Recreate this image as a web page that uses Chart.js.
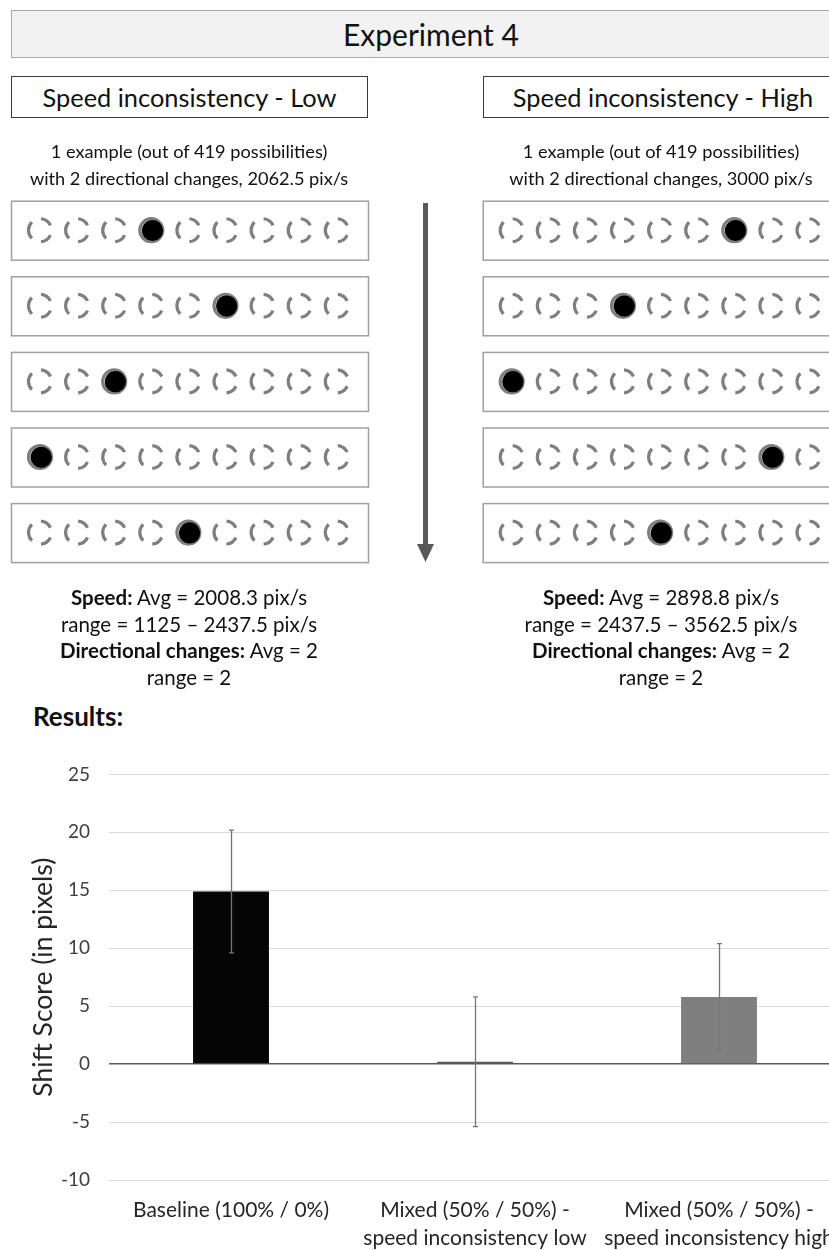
<!DOCTYPE html>
<html>
<head>
<meta charset="utf-8">
<script src="https://cdn.jsdelivr.net/npm/chart.js@4.4.1/dist/chart.umd.min.js"></script>
<style>
  html, body { margin: 0; padding: 0; width: 829px; height: 1250px; overflow: hidden; background: #fff; }
  body { position: relative; font-family: Lato, "Noto Sans", sans-serif; color: #111; }
  .abs { position: absolute; }
  .box { box-sizing: border-box; display: flex; align-items: center; justify-content: center; white-space: nowrap; }
  .title { left: 11px; top: 10px; width: 840px; height: 48px; background: #f2f2f2; border: 1.5px solid #a6a6a6; font-size: 30px; }
  .head { top: 76px; width: 357px; height: 42px; border: 1.2px solid #3a3a3a; font-size: 25.4px; background: #fff; }
  .txt { width: 380px; text-align: center; white-space: nowrap; }
  .ex { top: 138px; font-size: 18.2px; line-height: 27px; }
  .stats { top: 584px; font-size: 20.5px; line-height: 26.7px; }
  .results { left: 33px; top: 700px; font-size: 26px; font-weight: bold; }
  #stim { left: 0; top: 0; }
  #chartWrap { left: 0; top: 744px; width: 829px; height: 506px; overflow: hidden; }
  #chart { display: block; }
</style>
</head>
<body>
<canvas id="stim" class="abs" width="829" height="600"></canvas>

<div class="abs box title">Experiment 4</div>
<div class="abs box head" style="left:11px;">Speed inconsistency - Low</div>
<div class="abs box head" style="left:483px;width:360px;">Speed inconsistency - High</div>

<div class="abs txt ex" style="left:-1px;">1 example (out of 419 possibilities)<br>with 2 directional changes, 2062.5 pix/s</div>
<div class="abs txt ex" style="left:471px;">1 example (out of 419 possibilities)<br>with 2 directional changes, 3000 pix/s</div>

<div class="abs txt stats" style="left:-1px;"><b>Speed:</b> Avg = 2008.3 pix/s<br>range = 1125 – 2437.5 pix/s<br><b>Directional changes:</b> Avg = 2<br>range = 2</div>
<div class="abs txt stats" style="left:471px;"><b>Speed:</b> Avg = 2898.8 pix/s<br>range = 2437.5 – 3562.5 pix/s<br><b>Directional changes:</b> Avg = 2<br>range = 2</div>

<div class="abs results">Results:</div>

<div id="chartWrap" class="abs"><canvas id="chart" width="880" height="511"></canvas></div>

<script>
// Example trials: which of the 9 placeholders holds the target on each frame (1-based)
const lowDotPositions  = [4, 6, 3, 1, 5];
const highDotPositions = [7, 4, 1, 8, 5];

// Bar chart data
const conditions = [
  ["Baseline (100% / 0%)"],
  ["Mixed (50% / 50%) -", "speed inconsistency low"],
  ["Mixed (50% / 50%) -", "speed inconsistency high"]
];
const shiftScores = [14.9, 0.2, 5.8];
const shiftErrors = [5.3, 5.6, 4.6];
const barColors   = ["#050505", "#595959", "#7f7f7f"];
const yTicks      = { min: -10, max: 25, step: 5 };

// ---- stimulus frames ----
(function drawStimuli() {
  const c = document.getElementById('stim');
  const g = c.getContext('2d');
  const panelLefts = [11, 482.7];
  const panels = [lowDotPositions, highDotPositions];
  const rowTop0 = 200.7, rowStep = 75.6, rowH = 59, boxW = 357;
  const slots = 9, slotStep = 37.1, firstSlot = 29, r = 11.5;
  const deg = d => d * Math.PI / 180;

  function placeholder(cx, cy) {
    g.strokeStyle = '#7f7f7f';
    g.lineWidth = 3.2;
    g.lineCap = 'butt';
    [[135, 225], [275, 335], [25, 85]].forEach(([a, b]) => {
      g.beginPath();
      g.arc(cx, cy, r, deg(a), deg(b));
      g.stroke();
    });
  }
  function target(cx, cy) {
    g.strokeStyle = '#7f7f7f';
    g.lineWidth = 3.2;
    g.beginPath(); g.arc(cx, cy, r, 0, Math.PI * 2); g.stroke();
    g.fillStyle = '#000';
    g.beginPath(); g.arc(cx + 1.2, cy + 0.3, 10.6, 0, Math.PI * 2); g.fill();
  }

  panels.forEach((positions, p) => {
    const x0 = panelLefts[p];
    positions.forEach((pos, row) => {
      const top = rowTop0 + row * rowStep;
      g.strokeStyle = '#a0a0a0';
      g.lineWidth = 1.5;
      g.strokeRect(x0 + 0.5, top + 0.5, boxW, rowH);
      const cy = top + rowH / 2;
      for (let s = 1; s <= slots; s++) {
        const cx = x0 + firstSlot + (s - 1) * slotStep;
        if (s === pos) target(cx, cy); else placeholder(cx, cy);
      }
    });
  });

  // time arrow between the two panels
  g.fillStyle = '#595959';
  g.fillRect(423, 203, 5, 342);
  g.beginPath();
  g.moveTo(417, 544);
  g.lineTo(434, 544);
  g.lineTo(425.5, 562);
  g.closePath();
  g.fill();
})();

// ---- error bars ----
const errorBars = {
  id: 'errorBars',
  afterDatasetsDraw(chart) {
    const { ctx, scales: { y } } = chart;
    const meta = chart.getDatasetMeta(0);
    ctx.save();
    ctx.strokeStyle = '#767676';
    ctx.lineWidth = 1.3;
    meta.data.forEach((bar, i) => {
      const x = Math.round(bar.x) + 0.5;
      const top = y.getPixelForValue(shiftScores[i] + shiftErrors[i]);
      const bot = y.getPixelForValue(shiftScores[i] - shiftErrors[i]);
      ctx.beginPath();
      ctx.moveTo(x, top); ctx.lineTo(x, bot);
      ctx.moveTo(x - 2.5, top); ctx.lineTo(x + 2.5, top);
      ctx.moveTo(x - 2.5, bot); ctx.lineTo(x + 2.5, bot);
      ctx.stroke();
    });
    ctx.restore();
  }
};

new Chart(document.getElementById('chart'), {
  type: 'bar',
  data: {
    labels: conditions,
    datasets: [{
      data: shiftScores,
      backgroundColor: barColors,
      borderWidth: 0,
      categoryPercentage: 1,
      barPercentage: 0.311
    }]
  },
  options: {
    responsive: false,
    animation: false,
    devicePixelRatio: 1,
    layout: { padding: { top: 10, right: 39, bottom: 0, left: 0 } },
    plugins: { legend: { display: false }, tooltip: { enabled: false } },
    scales: {
      x: {
        grid: { display: false, drawTicks: false },
        border: { display: false },
        ticks: {
          color: '#262626',
          font: { family: 'Lato', size: 21, lineHeight: 1.333 },
          padding: 16,
          maxRotation: 0,
          autoSkip: false
        },
        afterFit(scale) { scale.height = 75; }
      },
      y: {
        min: yTicks.min,
        max: yTicks.max,
        grid: {
          drawTicks: false,
          color: ctx => (ctx.tick && ctx.tick.value === 0) ? '#595959' : '#d9d9d9',
          lineWidth: ctx => (ctx.tick && ctx.tick.value === 0) ? 1.6 : 1
        },
        border: { display: false },
        ticks: {
          stepSize: yTicks.step,
          color: '#404040',
          font: { family: 'Lato', size: 19 },
          padding: 19
        },
        title: {
          display: true,
          text: 'Shift Score (in pixels)',
          color: '#262626',
          font: { family: 'Lato', size: 26.5 },
          padding: { top: 28, bottom: 0 }
        },
        afterFit(scale) { scale.width = 109; }
      }
    }
  },
  plugins: [errorBars]
});
</script>
</body>
</html>
